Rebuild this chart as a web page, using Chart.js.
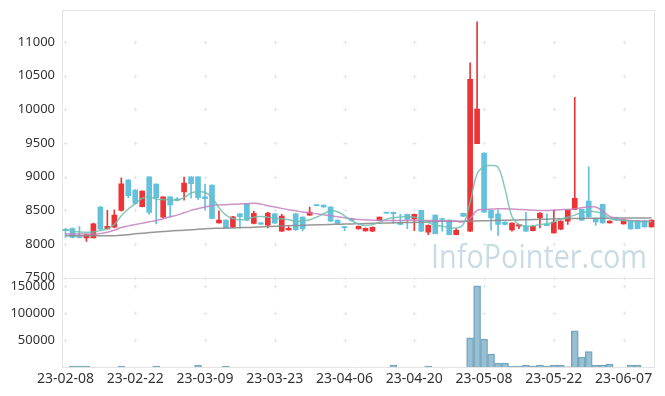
<!DOCTYPE html>
<html>
<head>
<meta charset="utf-8">
<script src="https://cdn.jsdelivr.net/npm/chart.js@4"></script>
<style>
  html, body { margin: 0; padding: 0; background: #fff; }
  #wrap { width: 665px; height: 396px; }
</style>
</head>
<body>
<div id="wrap"><canvas id="chart" width="665" height="396"></canvas></div>
<script>
// trading days, yy-mm-dd
const dates = [
  '23-02-08','23-02-09','23-02-10','23-02-13','23-02-14','23-02-15','23-02-16','23-02-17','23-02-20','23-02-21',
  '23-02-22','23-02-23','23-02-24','23-02-27','23-02-28','23-03-02','23-03-03','23-03-06','23-03-07','23-03-08',
  '23-03-09','23-03-10','23-03-13','23-03-14','23-03-15','23-03-16','23-03-17','23-03-20','23-03-21','23-03-22',
  '23-03-23','23-03-24','23-03-27','23-03-28','23-03-29','23-03-30','23-03-31','23-04-03','23-04-04','23-04-05',
  '23-04-06','23-04-07','23-04-10','23-04-11','23-04-12','23-04-13','23-04-14','23-04-17','23-04-18','23-04-19',
  '23-04-20','23-04-21','23-04-24','23-04-25','23-04-26','23-04-27','23-04-28','23-05-02','23-05-03','23-05-04',
  '23-05-08','23-05-09','23-05-10','23-05-11','23-05-12','23-05-15','23-05-16','23-05-17','23-05-18','23-05-19',
  '23-05-22','23-05-23','23-05-24','23-05-25','23-05-26','23-05-30','23-05-31','23-06-01','23-06-02','23-06-05',
  '23-06-07','23-06-08','23-06-09','23-06-12','23-06-13'
];

const priceTicks = [7500, 8000, 8500, 9000, 9500, 10000, 10500, 11000];
const volumeTicks = [50000, 100000, 150000];

const openP = [
  8220,8230,8110,8090,8090,8550,8225,8250,8500,8950,
  8800,8555,9000,8890,8400,8700,8670,8775,9000,9000,
  8700,8875,8315,8355,8250,8450,8600,8305,8315,8280,
  8450,8190,8210,8450,8400,8430,8580,8580,8550,8355,
  8255,8380,8225,8195,8190,8350,8470,8470,8315,8440,
  8375,8500,8175,8430,8380,8355,8140,8455,8190,9490,
  9350,8500,8450,8325,8210,8265,8265,8200,8390,8300,
  8165,8220,8340,8515,8515,8640,8380,8590,8315,8370,
  8300,8340,8350,8350,8255
];
const highP = [
  8235,8240,8260,8150,8310,8560,8500,8510,8985,8960,
  8810,8790,9000,8895,8700,8705,8690,8995,9000,9000,
  8890,8880,8495,8360,8410,8455,8600,8490,8320,8470,
  8455,8440,8260,8455,8405,8550,8580,8580,8555,8360,
  8258,8385,8270,8240,8255,8400,8470,8475,8440,8445,
  8445,8505,8285,8435,8385,8360,8235,8460,10690,11300,
  9355,8505,8510,8330,8315,8295,8470,8270,8465,8450,
  8500,8345,8510,10180,8520,9145,8385,8595,8345,8400,
  8360,8345,8355,8355,8360
];
const lowP = [
  8100,8090,8090,8040,8090,8210,8220,8240,8490,8690,
  8590,8550,8440,8300,8395,8400,8640,8650,8680,8660,
  8510,8375,8310,8235,8245,8240,8350,8300,8290,8240,
  8305,8185,8205,8200,8195,8425,8565,8545,8335,8300,
  8200,8345,8220,8190,8185,8345,8455,8305,8285,8230,
  8200,8185,8140,8150,8190,8135,8135,8410,8185,9490,
  8470,8205,8130,8285,8190,8230,8185,8195,8240,8270,
  8160,8215,8290,8510,8350,8400,8280,8310,8310,8350,
  8295,8220,8225,8250,8250
];
const closeP = [
  8200,8100,8095,8140,8300,8220,8265,8430,8895,8720,
  8605,8785,8470,8690,8700,8580,8650,8905,8895,8690,
  8675,8380,8355,8240,8405,8405,8355,8455,8295,8460,
  8310,8415,8235,8215,8230,8475,8570,8550,8340,8305,
  8245,8350,8265,8235,8250,8400,8460,8450,8290,8365,
  8440,8190,8280,8155,8365,8140,8205,8415,10445,10005,
  8475,8390,8290,8290,8310,8290,8190,8265,8460,8275,
  8325,8340,8505,8680,8355,8405,8330,8315,8340,8355,
  8355,8225,8230,8255,8355
];

// moving averages (5, 20, 60 day)
const ma5 = [
  8224,8190,8180,8175,8180,8200,8230,8290,8420,8520,
  8600,8680,8700,8670,8660,8660,8650,8690,8760,8775,
  8770,8690,8540,8430,8380,8360,8370,8400,8410,8400,
  8385,8375,8360,8340,8340,8360,8400,8450,8495,8480,
  8420,8350,8300,8275,8290,8320,8370,8390,8400,8410,
  8400,8370,8320,8280,8265,8245,8240,8290,8620,9040,
  9150,9165,9140,8820,8410,8290,8270,8270,8290,8300,
  8330,8370,8400,8430,8465,8485,8480,8450,8380,8360,
  8350,8340,8335,8330,8330
];
const ma20 = [
  8150,8150,8148,8148,8150,8155,8175,8205,8245,8270,
  8290,8310,8330,8350,8375,8405,8430,8465,8500,8525,
  8550,8570,8580,8585,8590,8595,8600,8605,8595,8570,
  8550,8530,8510,8495,8475,8465,8450,8435,8420,8405,
  8390,8375,8365,8360,8355,8352,8350,8350,8350,8352,
  8355,8352,8350,8348,8345,8342,8338,8330,8380,8500,
  8515,8520,8525,8525,8520,8515,8510,8505,8500,8500,
  8505,8510,8515,8525,8540,8550,8550,8490,8410,8380,
  8360,8350,8345,8340,8340
];
const ma60 = [
  8124,8124,8124,8124,8124,8124,8124,8124,8130,8140,
  8152,8162,8170,8180,8188,8194,8200,8206,8212,8220,
  8228,8232,8235,8238,8240,8243,8246,8250,8255,8260,
  8264,8268,8273,8276,8279,8282,8285,8288,8291,8294,
  8297,8299,8302,8305,8308,8310,8313,8316,8318,8320,
  8322,8324,8330,8336,8338,8339,8339,8339,8340,8343,
  8346,8349,8352,8354,8356,8358,8361,8364,8367,8370,
  8373,8376,8379,8380,8381,8382,8383,8384,8385,8386,
  8387,8387,8388,8388,8389
];

const volume = [
  null,1500,1500,1500,null,null,null,null,1500,null,
  null,null,null,1500,null,null,null,null,null,3700,
  null,null,null,1500,null,null,null,null,null,null,
  null,null,null,null,null,null,null,null,null,null,
  null,null,null,null,null,null,null,3700,null,null,
  null,null,1500,null,null,null,null,null,53700,150000,
  51800,24000,7400,7400,1800,1800,3700,1500,3700,1500,
  3700,3700,500,66700,18500,28300,3700,3700,5500,null,
  null,3700,3700,null,null
];

const UP = '#ec3437';
const DOWN = '#63c1dc';
const candleColors = closeP.map((c, i) => c >= openP[i] ? UP : DOWN);
const tickFont = { family: 'Noto Sans', size: 13 };

// frame lines, little "+" grid marks and the watermark
const framePlugin = {
  id: 'frame',
  beforeDatasetsDraw(chart) {
    const { ctx, chartArea: a, scales } = chart;
    const py = scales.y, vy = scales.yv, sx = scales.x;
    ctx.save();

    ctx.fillStyle = '#c9dbe5';
    ctx.font = '33px "Open Sans"';
    ctx.textAlign = 'right';
    ctx.textBaseline = 'alphabetic';
    ctx.fillText('InfoPointer.com', a.right - 8, py.bottom - 10, 216);

    ctx.strokeStyle = '#e4e4e4';
    ctx.lineWidth = 1;
    ctx.beginPath();
    ctx.moveTo(a.left, Math.round(py.top) + 0.5); ctx.lineTo(a.right, Math.round(py.top) + 0.5);
    ctx.moveTo(a.left, Math.round(py.bottom) + 0.5); ctx.lineTo(a.right, Math.round(py.bottom) + 0.5);
    ctx.moveTo(a.left, Math.round(vy.bottom) + 0.5); ctx.lineTo(a.right, Math.round(vy.bottom) + 0.5);
    ctx.moveTo(a.left + 0.5, a.top); ctx.lineTo(a.left + 0.5, a.bottom);
    ctx.moveTo(a.right - 0.5, a.top); ctx.lineTo(a.right - 0.5, a.bottom);
    ctx.stroke();

    ctx.strokeStyle = '#e6e6e6';
    ctx.beginPath();
    const rows = priceTicks.map(v => py.getPixelForValue(v))
      .concat(volumeTicks.map(v => vy.getPixelForValue(v)));
    for (let i = 0; i < dates.length; i += 10) {
      const px = Math.round(sx.getPixelForValue(i)) + 0.5;
      rows.forEach(r => {
        const ry = Math.round(r) + 0.5;
        ctx.moveTo(px - 2, ry); ctx.lineTo(px + 2, ry);
        ctx.moveTo(px, ry - 2); ctx.lineTo(px, ry + 2);
      });
    }
    ctx.stroke();
    ctx.restore();
  }
};

// fixed axis box: no extra space for half labels
const fitLeftAxis = s => {
  s.width = 62;
  s.paddingTop = 0;
  s.paddingBottom = 0;
};

new Chart(document.getElementById('chart'), {
  type: 'bar',
  data: {
    labels: dates,
    datasets: [
      { type: 'line', data: ma5, yAxisID: 'y', order: 0, borderColor: 'rgba(112,190,176,0.85)',
        borderWidth: 1.5, pointRadius: 0, tension: 0.4 },
      { type: 'line', data: ma20, yAxisID: 'y', order: 0, borderColor: 'rgba(196,128,192,0.85)',
        borderWidth: 1.5, pointRadius: 0, tension: 0.4 },
      { type: 'line', data: ma60, yAxisID: 'y', order: 0, borderColor: 'rgba(140,140,140,0.9)',
        borderWidth: 1.5, pointRadius: 0, tension: 0.4 },
      { data: lowP.map((l, i) => [l, highP[i]]), yAxisID: 'y', order: 1, grouped: false,
        backgroundColor: candleColors, barThickness: 1 },
      { data: openP.map((o, i) => [o, closeP[i]]), yAxisID: 'y', order: 1, grouped: false,
        backgroundColor: candleColors, barThickness: 5, minBarLength: 1 },
      { data: volume, yAxisID: 'yv', order: 2, grouped: false,
        backgroundColor: 'rgba(128,176,199,0.8)', borderColor: '#76a6bd', borderWidth: 1,
        barPercentage: 1, categoryPercentage: 1 }
    ]
  },
  options: {
    responsive: false,
    animation: false,
    layout: { padding: { top: 10, right: 10, left: 0, bottom: 0 } },
    plugins: { legend: { display: false }, tooltip: { enabled: false } },
    scales: {
      x: {
        offset: true,
        grid: { display: false, drawTicks: false },
        border: { display: false },
        ticks: {
          autoSkip: false, maxRotation: 0, padding: 4, color: '#333',
          font: { family: 'Noto Sans', size: 14 },
          callback: (v, i) => i % 10 === 0 ? dates[i] : ''
        },
        afterFit: s => { s.height = 29; s.paddingLeft = 0; s.paddingRight = 0; }
      },
      y: {
        position: 'left', stack: 'pv', stackWeight: 3, weight: 1,
        min: 7500, max: 11475,
        grid: { display: false, drawTicks: false },
        border: { display: false },
        ticks: { autoSkip: false, padding: 7, color: '#333', font: tickFont, callback: v => String(v) },
        afterBuildTicks: s => { s.ticks = priceTicks.map(v => ({ value: v })); },
        afterFit: fitLeftAxis
      },
      yv: {
        position: 'left', stack: 'pv', stackWeight: 1, weight: 0,
        min: 0, max: 165000,
        grid: { display: false, drawTicks: false },
        border: { display: false },
        ticks: { autoSkip: false, padding: 7, color: '#333', font: tickFont, callback: v => String(v) },
        afterBuildTicks: s => { s.ticks = volumeTicks.map(v => ({ value: v })); },
        afterFit: fitLeftAxis
      }
    }
  },
  plugins: [framePlugin]
});
</script>
</body>
</html>
